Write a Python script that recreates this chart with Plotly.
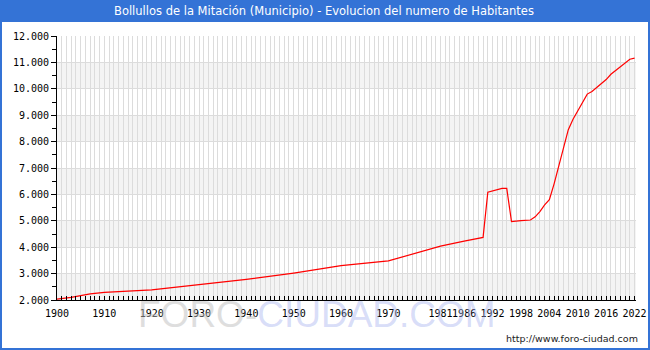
import plotly.graph_objects as go

years = [1900, 1903, 1907, 1910, 1920, 1930, 1940, 1950, 1960, 1970, 1981, 1986, 1990,
         1991, 1994, 1995, 1996, 1998, 2000, 2001, 2002, 2003, 2004, 2005, 2006, 2007,
         2008, 2009, 2010, 2011, 2012, 2013, 2014, 2015, 2016, 2017, 2018, 2019, 2020,
         2021, 2022]
population = [2030, 2100, 2230, 2290, 2380, 2580, 2780, 3020, 3300, 3480, 4040, 4230, 4370,
              6080, 6230, 6230, 4970, 5010, 5030, 5150, 5350, 5600, 5800, 6400, 7050, 7800,
              8450, 8850, 9150, 9500, 9800, 9900, 10050, 10200, 10350, 10550, 10700, 10850, 11000,
              11120, 11160]
x_tick_years = [1900, 1910, 1920, 1930, 1940, 1950, 1960, 1970, 1981, 1986, 1992, 1998,
                2004, 2010, 2016, 2022]
y_bands = [(2000, 3000), (4000, 5000), (6000, 7000), (8000, 9000), (10000, 11000)]

title = "Bollullos de la Mitación (Municipio) - Evolucion del numero de Habitantes"

W, H = 650, 350
L, R, T, B = 57, 14, 36, 50
pw, ph = W - L - R, H - T - B


def px(x):
    return (x - L) / pw


def py(y):
    return (H - B - y) / ph


BLUE = "#3473d6"
GRID = "#dcdcdc"
BAND = "#f4f4f4"

fig = go.Figure()
fig.add_trace(go.Scatter(x=years, y=population, mode="lines",
                         line=dict(color="#ff0000", width=1.2), hoverinfo="x+y"))

shapes = []
for y0, y1 in y_bands:
    shapes.append(dict(type="rect", xref="paper", yref="y", x0=0, x1=1, y0=y0, y1=y1,
                       fillcolor=BAND, line=dict(width=0), layer="below"))
# title bar
shapes.append(dict(type="rect", xref="paper", yref="paper", x0=px(0), x1=px(W),
                   y0=py(22), y1=py(0), fillcolor=BLUE, line=dict(width=0), layer="above"))
# outer border
shapes.append(dict(type="rect", xref="paper", yref="paper", x0=px(1), x1=px(W - 1),
                   y0=py(H - 1), y1=py(1), fillcolor="rgba(0,0,0,0)",
                   line=dict(color=BLUE, width=2), layer="above"))

annotations = [
    dict(text=title, xref="paper", yref="paper", x=px(324), y=py(11), showarrow=False,
         xanchor="center", yanchor="middle",
         font=dict(family="DejaVu Sans", size=11.5, color="white")),
    dict(text='<span style="color:rgba(190,190,190,0.5)">FORO-</span>'
              '<span style="color:rgba(170,180,240,0.45)">CIUDAD.COM</span>',
         xref="paper", yref="paper", x=px(317), y=py(314), showarrow=False,
         xanchor="center", yanchor="middle",
         font=dict(family="Liberation Sans", size=37)),
    dict(text="http://www.foro-ciudad.com", xref="paper", yref="paper",
         x=px(640), y=py(338), showarrow=False, xanchor="right", yanchor="middle",
         font=dict(family="DejaVu Sans", size=9.5, color="#222222")),
]

fig.update_layout(
    width=W, height=H,
    margin=dict(l=L, r=R, t=T, b=B, pad=0, autoexpand=False),
    paper_bgcolor="white", plot_bgcolor="white",
    separators=",.",
    showlegend=False,
    shapes=shapes,
    annotations=annotations,
    font=dict(family="DejaVu Sans Mono", size=10, color="black"),
)

fig.update_xaxes(
    range=[1900, 2022.3], tickvals=x_tick_years, ticktext=[str(v) for v in x_tick_years],
    tickangle=0, automargin=False, ticklabelstandoff=4,
    ticks="inside", ticklen=4, tickcolor="black", showline=True, linecolor="black",
    linewidth=1, showgrid=True, gridcolor=GRID, gridwidth=1, zeroline=False,
    minor=dict(dtick=1, tick0=1900, ticks="inside", ticklen=4, tickcolor="black",
               showgrid=True, gridcolor=GRID, gridwidth=1),
    tickfont=dict(family="DejaVu Sans Mono", size=10, color="black"),
    fixedrange=True,
)
fig.update_yaxes(
    range=[2000, 12000], dtick=1000, tick0=2000, tickformat=",d", automargin=False,
    ticks="outside", ticklen=5, tickcolor="black", showline=True, linecolor="black",
    linewidth=1, showgrid=True, gridcolor=GRID, gridwidth=1, zeroline=False,
    minor=dict(dtick=500, tick0=2000, ticks="outside", ticklen=4, tickcolor="black",
               showgrid=False),
    tickfont=dict(family="DejaVu Sans Mono", size=10, color="black"),
    fixedrange=True,
)

fig.write_html("out.html")
